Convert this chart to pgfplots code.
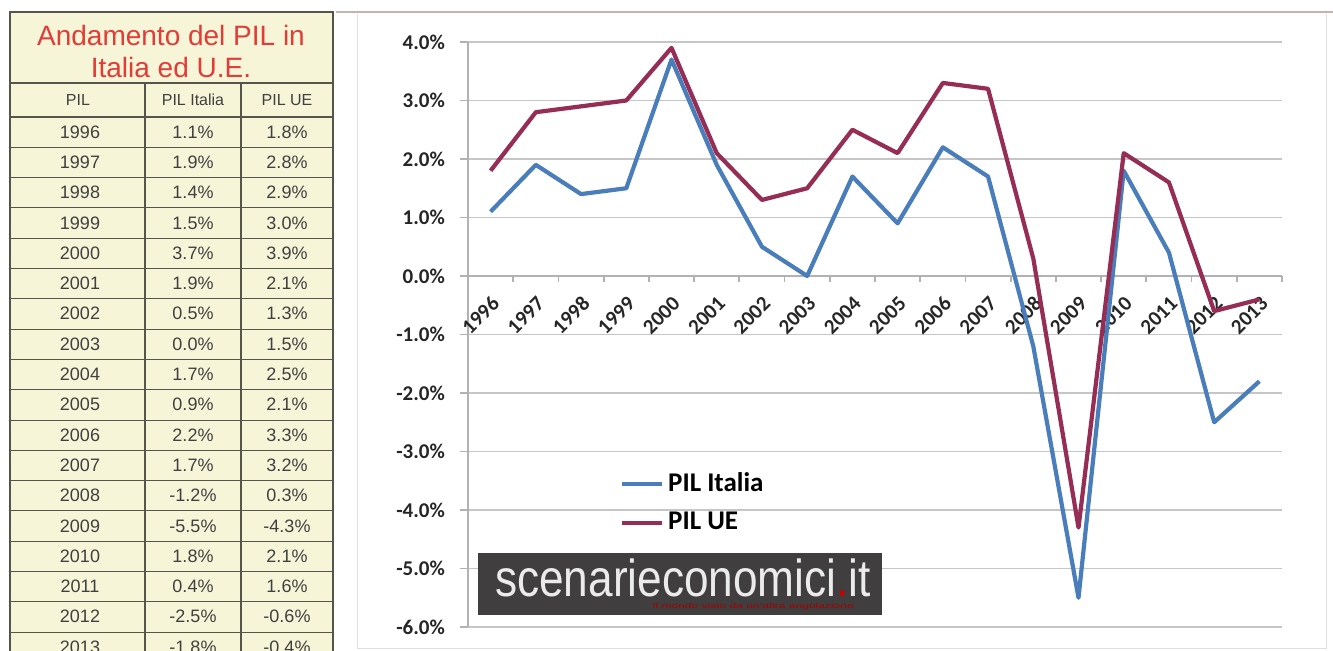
\documentclass[border=0pt]{standalone}
\usepackage{pgfplots}
\pgfplotsset{compat=1.18}
\usepackage{pgfplotstable}
\usepackage{fontspec}
\setmainfont{Liberation Sans}
\newfontfamily\calibri{Carlito}
\definecolor{itblue}{RGB}{74,126,187}
\definecolor{uered}{RGB}{150,45,85}
\definecolor{cream}{RGB}{247,245,216}
\definecolor{tline}{RGB}{85,85,75}
\definecolor{titred}{RGB}{225,60,55}
\definecolor{wmgray}{RGB}{64,62,62}
\definecolor{frame}{RGB}{205,175,175}

\pgfplotstableread{
x yr it ue
0 1996 1.1 1.8
1 1997 1.9 2.8
2 1998 1.4 2.9
3 1999 1.5 3.0
4 2000 3.7 3.9
5 2001 1.9 2.1
6 2002 0.5 1.3
7 2003 0.0 1.5
8 2004 1.7 2.5
9 2005 0.9 2.1
10 2006 2.2 3.3
11 2007 1.7 3.2
12 2008 -1.2 0.3
13 2009 -5.5 -4.3
14 2010 1.8 2.1
15 2011 0.4 1.6
16 2012 -2.5 -0.6
17 2013 -1.8 -0.4
}\pildata

\begin{document}
\begin{tikzpicture}
\useasboundingbox (0,0) rectangle (666.5pt,-325.5pt);
\fill[white] (0,0) rectangle (666.5pt,-325.5pt);
\begin{scope}[x=0.5pt,y=-0.5pt]
  % chart area frame
  \draw[gray!25, line width=0.5pt] (357,14) -- (357,648) -- (1326,648) -- (1326,14);
  \draw[frame, line width=1.2pt] (336,12) -- (1333,12);
  % table
  \fill[cream] (10,12) rectangle (333,651);
  \draw[tline, line width=0.6pt] (10,651) -- (10,12) -- (333,12) -- (333,651);
  \draw[tline, line width=0.6pt] (10,83) -- (333,83);
  \draw[tline, line width=1.2pt] (10,117) -- (333,117);
  \draw[tline, line width=0.6pt] (145,83) -- (145,651);
  \draw[tline, line width=0.6pt] (241,83) -- (241,651);
  \foreach \i in {1,...,17} {\draw[tline, line width=0.4pt] (10,117+30.3*\i) -- (333,117+30.3*\i);}
  \node[text=titred, font=\fontsize{14}{16}\selectfont] at (171,35) {Andamento del PIL in};
  \node[text=titred, font=\fontsize{14}{16}\selectfont] at (171,67) {Italia ed U.E.};
  \node[text=black!75, font=\fontsize{8}{9}\selectfont] at (78,100) {PIL};
  \node[text=black!75, font=\fontsize{8}{9}\selectfont] at (193,100) {PIL Italia};
  \node[text=black!75, font=\fontsize{8}{9}\selectfont] at (287,100) {PIL UE};
  \foreach \yr/\a/\b [count=\i from 0] in {1996/1.1/1.8, 1997/1.9/2.8, 1998/1.4/2.9, 1999/1.5/3.0, 2000/3.7/3.9, 2001/1.9/2.1, 2002/0.5/1.3, 2003/0.0/1.5, 2004/1.7/2.5, 2005/0.9/2.1, 2006/2.2/3.3, 2007/1.7/3.2, 2008/-1.2/0.3, 2009/-5.5/-4.3, 2010/1.8/2.1, 2011/0.4/1.6, 2012/-2.5/-0.6, 2013/-1.8/-0.4} {
    \node[text=black!75, font=\fontsize{9}{10}\selectfont] at (80,132+30.3*\i) {\yr};
    \node[text=black!75, font=\fontsize{9}{10}\selectfont] at (193,132+30.3*\i) {\a\%};
    \node[text=black!75, font=\fontsize{9}{10}\selectfont] at (287,132+30.3*\i) {\b\%};
  }
\end{scope}
\begin{axis}[
  at={(234pt,-313.5pt)}, anchor=south west,
  scale only axis, width=407pt, height=292.5pt,
  xmin=-0.5, xmax=17.5, ymin=-6, ymax=4,
  axis x line*=middle, axis y line*=left,
  axis line style={gray!60, line width=0.9pt},
  ytick={-6,...,4},
  /pgf/number format/assume math mode=true,
  yticklabel={\pgfmathprintnumber[fixed,fixed zerofill,precision=1]{\tick}\%},
  yticklabel style={font=\calibri\bfseries\fontsize{10.5}{12}\selectfont, text=black!85, xshift=-4pt},
  xtick={0,...,17},
  xticklabels={1996,1997,1998,1999,2000,2001,2002,2003,2004,2005,2006,2007,2008,2009,2010,2011,2012,2013},
  xticklabel style={font=\calibri\bfseries\fontsize{10.5}{12}\selectfont, text=black!85, rotate=45, anchor=east, yshift=-7.5pt, xshift=-0.5pt},
  major x tick style={draw=none},
  minor xtick={-0.5,0.5,...,17.5},
  minor x tick style={gray!60, line width=0.9pt},
  minor tick length=3pt,
  major tick length=4pt,
  ytick style={gray!60, line width=0.9pt},
  tick align=outside,
  ymajorgrids, grid style={gray!45, line width=0.9pt},
  clip=false,
  legend style={at={(0.184,0.275)}, anchor=north west, draw=none, fill=none,
    font=\calibri\bfseries\fontsize{13.5}{16}\selectfont, row sep=5pt, inner sep=1pt},
  legend cell align=left,
  legend image code/.code={\draw[#1, line width=2pt] (0pt,0pt) -- (20pt,0pt);},
]
\addplot[itblue, line width=2.1pt, line join=round] table[x=x, y=it] {\pildata};
\addlegendentry{PIL Italia}
\addplot[uered, line width=2.1pt, line join=round] table[x=x, y=ue] {\pildata};
\addlegendentry{PIL UE}
\end{axis}
\begin{scope}[x=0.5pt,y=-0.5pt]
  \fill[wmgray] (478,553) rectangle (882,615);
  \node[text=white!92!black, font=\fontsize{26}{28}\selectfont, inner sep=0pt] at (683,578) {\scalebox{0.85}[1]{scenarieconomici{\color{red!80!black}.}it}};
  \node[text=red!65!black, font=\fontsize{6}{6}\selectfont, inner sep=0pt] at (753,607) {\scalebox{1}[0.6]{Il mondo visto da un'altra angolazione}};
\end{scope}
\end{tikzpicture}
\end{document}
